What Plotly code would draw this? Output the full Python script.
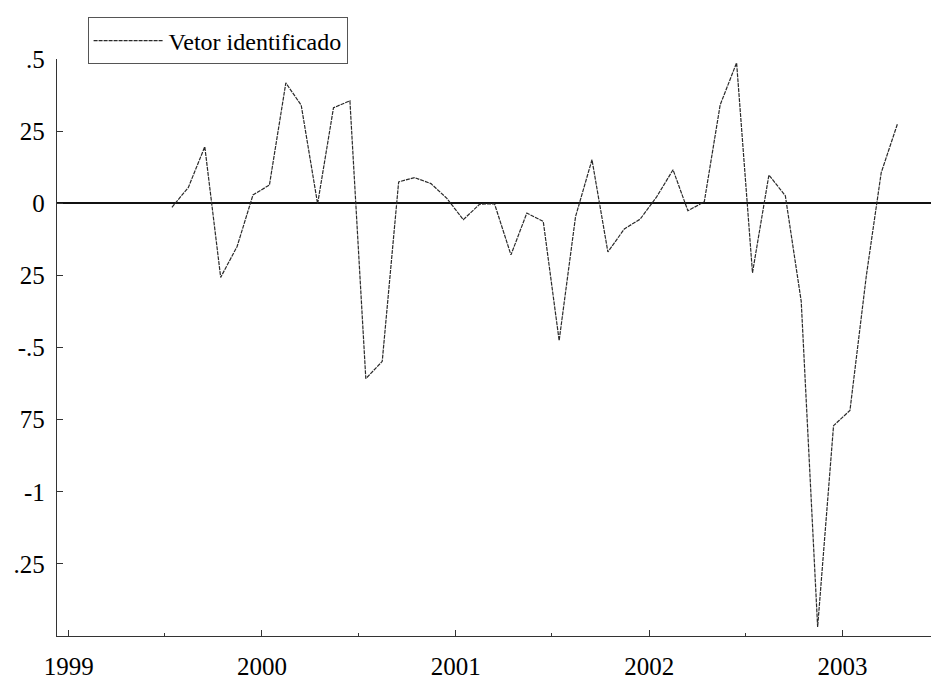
import pandas as pd
import plotly.graph_objects as go

# Monthly series, Jul 1999 - Apr 2003 (plotted at mid-month)
months = pd.date_range("1999-07-01", "2003-04-01", freq="MS")
vetor = [
    -0.014, 0.055, 0.196, -0.257, -0.150, 0.029,
    0.063, 0.417, 0.340, -0.002, 0.331, 0.355,
    -0.608, -0.548, 0.074, 0.089, 0.068, 0.017,
    -0.057, -0.003, -0.002, -0.179, -0.034, -0.063,
    -0.476, -0.046, 0.151, -0.169, -0.089, -0.055,
    0.022, 0.116, -0.026, 0.005, 0.341, 0.487,
    -0.241, 0.098, 0.026, -0.340, -1.469, -0.771,
    -0.718, -0.250, 0.106, 0.277,
]
series_name = "Vetor identificado"

y_tickvals = [0.5, 0.25, 0, -0.25, -0.5, -0.75, -1, -1.25]
y_ticktext = [".5", "25", "0", "25", "-.5", "75", "-1", ".25"]

x_dates = months + pd.Timedelta(days=14)

FONT = "Liberation Serif"

fig = go.Figure()
fig.add_trace(go.Scatter(
    x=x_dates, y=vetor, mode="lines", name=series_name,
    line=dict(color="#2a2a2a", width=1.2, dash="4px,1px"),
    showlegend=True,
))

fig.update_layout(
    width=931, height=680,
    margin=dict(l=57, r=0, t=59, b=37),
    paper_bgcolor="white", plot_bgcolor="white",
    font=dict(family=FONT, size=24, color="black"),
    showlegend=True,
    legend=dict(
        x=0.035, y=1.072, xanchor="left", yanchor="top",
        bordercolor="#555", borderwidth=1, bgcolor="white",
        font=dict(family=FONT, size=24, color="black"),
        itemwidth=70,
    ),
    xaxis=dict(
        type="date",
        range=["1998-12-10", "2003-06-17"],
        showgrid=False, zeroline=False,
        showline=True, linecolor="#333", linewidth=1.3,
        ticks="inside", ticklen=6, tickcolor="#333",
        tick0="1999-01-01", dtick="M12", tickformat="%Y",
        minor=dict(ticks="inside", ticklen=3, dtick="M6", tickcolor="#333", showgrid=False),
        ticklabelstandoff=8,
        tickfont=dict(family=FONT, size=25, color="black"),
    ),
    yaxis=dict(
        range=[-1.5, 0.5],
        showgrid=False,
        zeroline=True, zerolinecolor="#111", zerolinewidth=2,
        showline=True, linecolor="#333", linewidth=1.3,
        ticks="inside", ticklen=6, tickcolor="#333",
        tickvals=y_tickvals, ticktext=y_ticktext,
        ticklabelstandoff=6,
        tickfont=dict(family=FONT, size=25, color="black"),
    ),
)

fig.write_html("out.html")
